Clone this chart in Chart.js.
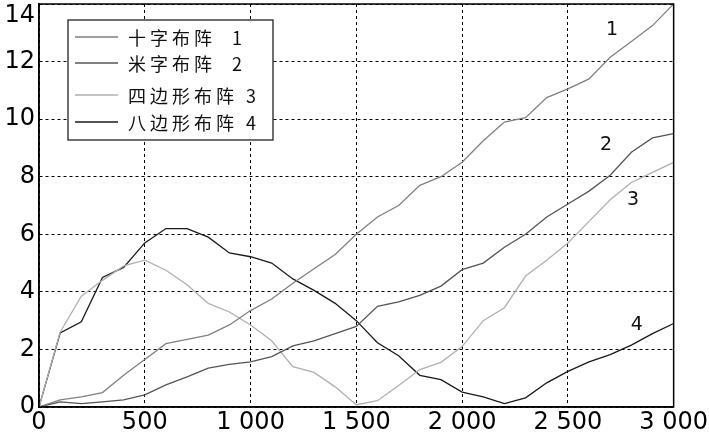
<!DOCTYPE html>
<html>
<head>
<meta charset="utf-8">
<script src="https://cdn.jsdelivr.net/npm/chart.js@4"></script>
<style>
  body { margin: 0; background: #fff; }
  canvas { display: block; }
</style>
</head>
<body>
<canvas id="chart" width="709" height="433"></canvas>
<script>
// x positions of the samples
var steps = [0, 100, 200, 300, 400, 500, 600, 700, 800, 900, 1000,
  1100, 1200, 1300, 1400, 1500, 1600, 1700, 1800, 1900, 2000,
  2100, 2200, 2300, 2400, 2500, 2600, 2700, 2800, 2900, 3000];

var names = ['十字布阵  1', '米字布阵  2', '四边形布阵 3', '八边形布阵 4'];
var tags = ['1', '2', '3', '4'];

var cross = [0, 0.25, 0.35, 0.5, 1.1, 1.65, 2.2, 2.35, 2.5, 2.85, 3.35,
  3.75, 4.3, 4.8, 5.3, 6.0, 6.6, 7.0, 7.7, 8.0, 8.5,
  9.25, 9.9, 10.05, 10.75, 11.05, 11.4, 12.15, 12.7, 13.25, 14.0];
var star = [0, 0.18, 0.12, 0.18, 0.25, 0.42, 0.77, 1.05, 1.35, 1.48, 1.57,
  1.75, 2.12, 2.3, 2.55, 2.8, 3.5, 3.65, 3.88, 4.2, 4.77,
  5.0, 5.55, 6.0, 6.6, 7.05, 7.5, 8.05, 8.85, 9.35, 9.5];
var square = [0, 2.6, 3.85, 4.4, 4.9, 5.1, 4.75, 4.25, 3.6, 3.3, 2.85,
  2.3, 1.4, 1.2, 0.7, 0.08, 0.22, 0.75, 1.3, 1.55, 2.1,
  3.0, 3.45, 4.55, 5.1, 5.7, 6.45, 7.2, 7.8, 8.15, 8.5];
var octagon = [0, 2.57, 2.96, 4.5, 4.85, 5.7, 6.2, 6.2, 5.9, 5.35, 5.22,
  5.0, 4.45, 4.05, 3.6, 3.0, 2.23, 1.78, 1.1, 0.95, 0.52,
  0.35, 0.12, 0.32, 0.84, 1.24, 1.57, 1.82, 2.15, 2.55, 2.9];

// where the curve numbers sit (data coords)
var tagX = [2709, 2681, 2808, 2826];
var tagY = [13.1, 9.1, 7.2, 2.85];

var colors = ['#808080', '#555555', '#b0b0b0', '#1a1a1a'];
var yMax = 14;

function toPoints(vals) {
  return steps.map(function(x, i) { return { x: x, y: vals[i] }; });
}

function fmt(v) {
  if (v >= 1000) {
    return Math.floor(v / 1000) + ' ' + String(v % 1000).padStart(3, '0');
  }
  return String(v);
}

// frame, in-plot legend and curve numbers
var extras = {
  id: 'extras',
  afterDraw: function(chart) {
    var ctx = chart.ctx;
    var a = chart.chartArea;
    ctx.save();
    ctx.strokeStyle = '#000';
    ctx.lineWidth = 1.5;
    ctx.strokeRect(a.left, a.top, a.right - a.left, a.bottom - a.top);

    // top y label sits lower so it stays inside the picture
    ctx.font = '24px "DejaVu Sans"';
    ctx.fillStyle = '#000';
    ctx.textAlign = 'right';
    ctx.textBaseline = 'middle';
    ctx.fillText(fmt(yMax), a.left - 4, a.top + 12);

    // legend box
    ctx.fillStyle = '#fff';
    ctx.fillRect(68, 20, 205, 120);
    ctx.lineWidth = 1.3;
    ctx.strokeStyle = '#222';
    ctx.strokeRect(68, 20, 205, 120);
    var rows = [37, 63, 95, 122];
    ctx.font = '18px "Noto Sans CJK SC"';
    ctx.textBaseline = 'middle';
    ctx.textAlign = 'left';
    ctx.letterSpacing = '4px';
    chart.data.datasets.forEach(function(ds, i) {
      ctx.strokeStyle = ds.borderColor;
      ctx.lineWidth = 1.5;
      ctx.beginPath();
      ctx.moveTo(75, rows[i]);
      ctx.lineTo(118, rows[i]);
      ctx.stroke();
      ctx.fillStyle = '#111';
      ctx.fillText(ds.label, 128, rows[i] + 1);
    });
    ctx.letterSpacing = '0px';

    // curve numbers
    var xs = chart.scales.x, ys = chart.scales.y;
    ctx.font = '19px "DejaVu Sans"';
    ctx.textAlign = 'center';
    ctx.fillStyle = '#111';
    tags.forEach(function(t, i) {
      ctx.fillText(t, xs.getPixelForValue(tagX[i]), ys.getPixelForValue(tagY[i]));
    });
    ctx.restore();
  }
};

var series = [cross, star, square, octagon];

new Chart(document.getElementById('chart'), {
  type: 'line',
  data: {
    datasets: series.map(function(vals, i) {
      return {
        label: names[i],
        data: toPoints(vals),
        borderColor: colors[i],
        backgroundColor: colors[i],
        borderWidth: 1.3,
        pointRadius: 0,
        tension: 0,
        fill: false
      };
    })
  },
  options: {
    responsive: false,
    animation: false,
    layout: { padding: { top: 4, right: 31, left: 0, bottom: 0 } },
    plugins: {
      legend: { display: false },
      tooltip: { enabled: false }
    },
    scales: {
      x: {
        type: 'linear',
        min: 0,
        max: 3000,
        afterFit: function(s) { s.height = 26; },
        ticks: {
          stepSize: 500,
          padding: 1,
          maxRotation: 0,
          color: '#000',
          font: { family: 'DejaVu Sans', size: 24 },
          callback: function(v) { return fmt(v); }
        },
        grid: { color: '#000', lineWidth: 1, drawTicks: false },
        border: { display: true, color: '#000', width: 1.5, dash: [3, 3] }
      },
      y: {
        min: 0,
        max: yMax,
        afterFit: function(s) { s.width = 39; s.paddingTop = 0; },
        ticks: {
          stepSize: 2,
          padding: 4,
          color: '#000',
          font: { family: 'DejaVu Sans', size: 24 },
          callback: function(v) { return v === yMax ? '' : fmt(v); }
        },
        grid: { color: '#000', lineWidth: 1, drawTicks: false },
        border: { display: true, color: '#000', width: 1.5, dash: [3, 3] }
      }
    }
  },
  plugins: [extras]
});
</script>
</body>
</html>
